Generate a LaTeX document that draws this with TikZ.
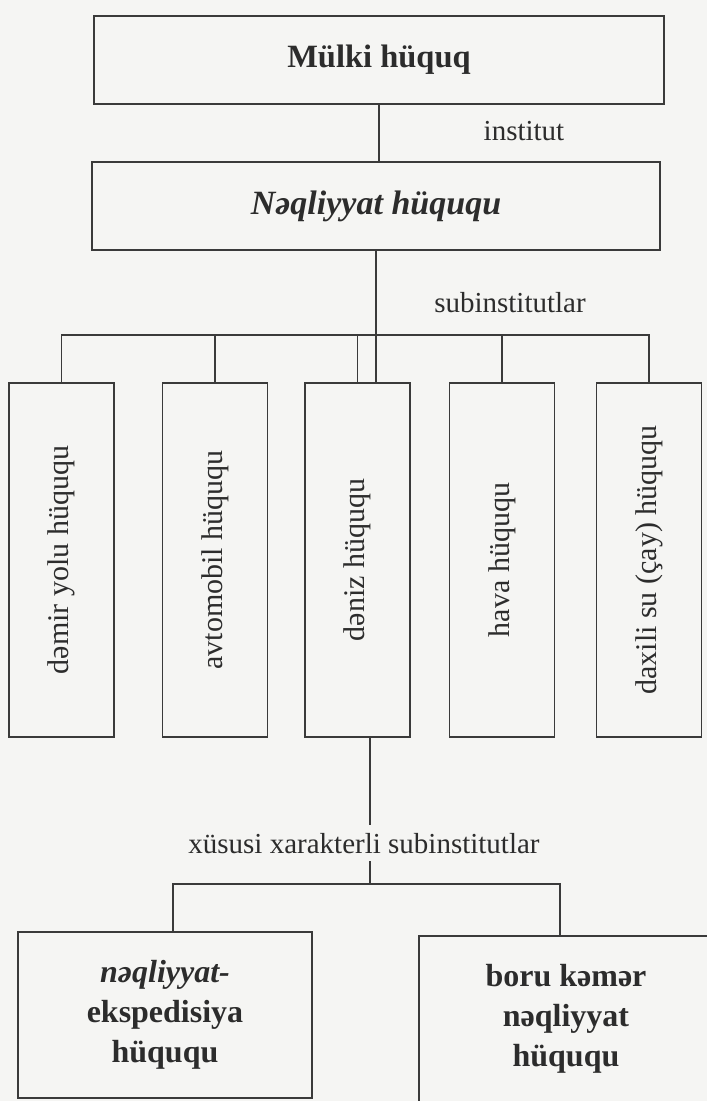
\documentclass[tikz,border=0pt]{standalone}
\usepackage{fontspec}
\setmainfont{Liberation Serif}
\usepackage{tikz}
\definecolor{ink}{HTML}{2C2C2C}
\definecolor{rule}{HTML}{3A3A3A}
\definecolor{paper}{HTML}{F5F5F3}
\tikzset{
  frame/.style={draw=rule, line width=1.8pt, fill=paper, inner sep=0pt},
  link/.style={draw=rule, line width=1.8pt},
  wide/.style={frame, minimum width=570pt, minimum height=88pt, text=ink},
  tall/.style={frame, minimum width=105pt, minimum height=354pt, text=ink,
    font=\fontsize{30}{36}\selectfont},
  leaf/.style={frame, minimum width=294pt, minimum height=166pt, text=ink,
    align=center, font=\fontsize{32}{40}\selectfont\bfseries},
  note/.style={text=ink, font=\fontsize{29}{34}\selectfont, anchor=base},
}

\begin{document}
\begin{tikzpicture}[x=1pt, y=-1pt]
  \useasboundingbox (0,0) rectangle (707,1101);
  \clip (0,0) rectangle (707,1101);
  \fill[paper] (0,0) rectangle (707,1101);

  % top two levels
  \node[wide, font=\fontsize{32.5}{39}\selectfont\bfseries] (mulki) at (379,60) {Mülki hüquq};
  \node[wide, minimum width=568pt, font=\fontsize{34}{40}\selectfont\bfseries\itshape] (nagl) at (376,206) {Nəqliyyat hüququ};
  \draw[link] (mulki.south) -- (mulki.south |- nagl.north);
  \node[note] (inst) at (524,140) {institut};

  % subinstitutlar
  \node[tall] (demir) at (61.5,560) {\rotatebox{90}{dəmir yolu hüququ}};
  \node[tall] (avto) at (215,560) {\rotatebox{90}{avtomobil hüququ}};
  \node[tall] (deniz) at (357.5,560) {\rotatebox{90}{dəniz hüququ}};
  \node[tall] (hava) at (502,560) {\rotatebox{90}{hava hüququ}};
  \node[tall] (daxili) at (649,560) {\rotatebox{90}{daxili su (çay) hüququ}};
  \coordinate (bar) at (0,335);
  \draw[link] (demir.north) -- (demir.north |- bar) -- (daxili.north |- bar) -- (daxili.north);
  \foreach \b in {avto,deniz,hava}
    \draw[link] (\b.north) -- (\b.north |- bar);
  \draw[link] (nagl.south) -- (nagl.south |- deniz.north);
  \node[note] (subinst) at (510,312) {subinstitutlar};

  % special subinstitutes
  \node[leaf] (ekspd) at (165,1015) {{\itshape nəqliyyat-}\\ekspedisiya\\hüququ};
  \node[leaf] (boru) at (566,1019) {boru kəmər\\nəqliyyat\\hüququ};
  \coordinate (fork) at (370,884);
  \draw[link] (fork |- deniz.south) -- (fork);
  \draw[link] ([xshift=8pt]ekspd.north) |- (fork) -| ([xshift=-6pt]boru.north);
  \node[note, fill=paper, inner ysep=8pt] (xus) at (364,853) {xüsusi xarakterli subinstitutlar};
\end{tikzpicture}
\end{document}
